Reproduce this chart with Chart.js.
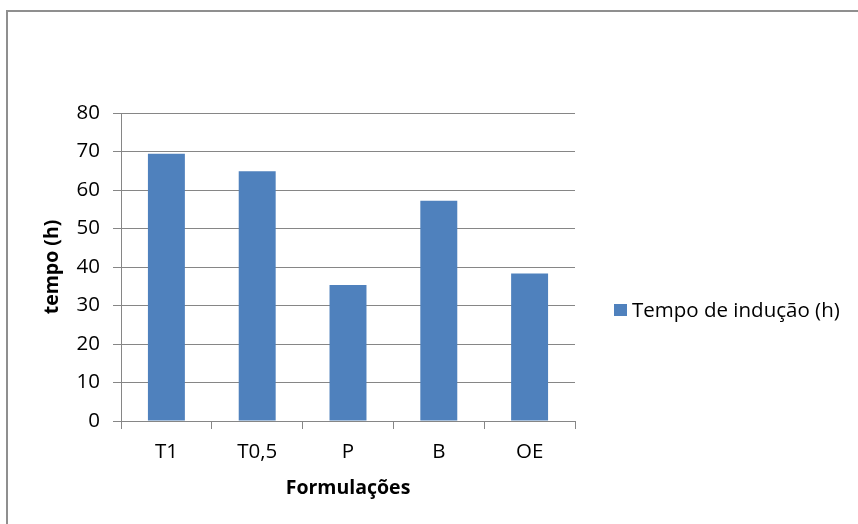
<!DOCTYPE html>
<html>
<head>
<meta charset="utf-8">
<title>Tempo de indução</title>
<script src="https://cdn.jsdelivr.net/npm/chart.js@4.4.1/dist/chart.umd.min.js"></script>
<style>
  html, body { margin: 0; padding: 0; background: #fff; }
  #wrap { position: relative; width: 858px; height: 524px; overflow: hidden; }
  #frame { position: absolute; left: 6px; top: 10px; width: 900px; height: 600px;
           border-left: 2px solid #8f8f8f; border-top: 2px solid #8f8f8f; }
  #chart { position: absolute; left: 0; top: 0; }
  #legend { position: absolute; left: 614px; top: 297px; font-family: "Open Sans", sans-serif;
            font-size: 20.5px; line-height: 24px; color: #000; white-space: nowrap; }
  #legend .swatch { position: absolute; left: 0; top: 6.5px; width: 13px; height: 12px; }
  #legend .text { position: absolute; left: 18px; top: 0; }
</style>
</head>
<body>
<div id="wrap">
  <div id="frame"></div>
  <canvas id="chart" width="858" height="524"></canvas>
  <div id="legend"></div>
</div>
<script>
// Induction time per formulation
const categories = ["T1", "T0,5", "P", "B", "OE"];
const seriesLabel = "Tempo de indução (h)";
const inductionHours = [69.4, 64.9, 35.3, 57.2, 38.3];
const yTicks = [0, 10, 20, 30, 40, 50, 60, 70, 80];

const barColor = "#4f81bd";
const gridColor = "#868686";
const fontFamily = "'Open Sans', sans-serif";

// Legend built as HTML beside the plot
const legend = document.getElementById("legend");
legend.innerHTML = '<span class="swatch"></span><span class="text"></span>';
legend.querySelector(".swatch").style.background = barColor;
legend.querySelector(".text").textContent = seriesLabel;

new Chart(document.getElementById("chart"), {
  type: "bar",
  data: {
    labels: categories,
    datasets: [{
      label: seriesLabel,
      data: inductionHours,
      backgroundColor: barColor,
      borderWidth: 0,
      categoryPercentage: 1,
      barPercentage: 0.407
    }]
  },
  options: {
    responsive: false,
    animation: false,
    devicePixelRatio: 1,
    layout: { padding: { left: 0, top: 113, right: 283, bottom: 0 } },
    plugins: {
      legend: { display: false },
      tooltip: { enabled: false }
    },
    scales: {
      x: {
        grid: { display: true, drawOnChartArea: false, drawTicks: true, tickLength: 8, color: gridColor, lineWidth: 1 },
        border: { display: true, color: gridColor, width: 1 },
        ticks: { color: "#000", padding: 11, font: { family: fontFamily, size: 20.5 } },
        title: { display: true, text: "Formulações", color: "#000",
                 font: { family: fontFamily, size: 19.5, weight: "bold" }, padding: { top: 0, bottom: 24 } },
        afterFit(scale) { scale.height = 103; }
      },
      y: {
        min: yTicks[0],
        max: yTicks[yTicks.length - 1],
        afterBuildTicks(scale) { scale.ticks = yTicks.map(v => ({ value: v })); },
        grid: { color: gridColor, lineWidth: 1, drawTicks: true, tickLength: 8 },
        border: { display: true, color: gridColor, width: 1 },
        ticks: { color: "#000", padding: 13, font: { family: fontFamily, size: 20.5 } },
        title: { display: true, text: "tempo (h)", color: "#000",
                 font: { family: fontFamily, size: 19.5, weight: "bold" }, padding: { top: 41, bottom: 0 } },
        afterFit(scale) { scale.width = 121; }
      }
    }
  }
});
</script>
</body>
</html>
